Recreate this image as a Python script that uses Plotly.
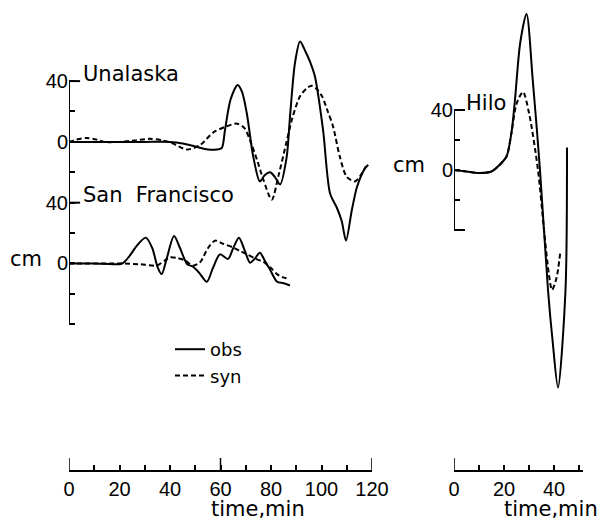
import plotly.graph_objects as go

# ---- data (time in min, amplitude in cm) ----
una_obs_t = [0, 10, 20, 30, 40, 45, 50, 55, 58.5, 60.5, 61.8, 64, 66.8, 68.5, 70.4, 73, 75.6, 77.5, 79.6, 81.5, 83.6,
             86.2, 87.5, 89.5, 91.5, 93.5, 95.4, 97.4, 100.6, 103.4, 106, 108, 109.7, 112, 114, 117, 118.5]
una_obs_cm = [0, 0, 0, 0, 0, -1, -3, -5, -5, -4, 8, 28, 37.5, 33, 19, -10, -26, -22, -20, -23, -28,
              -10, 16, 52, 66, 60, 53, 43, 8, -34, -43, -52, -65, -45, -30, -18, -15]

una_syn_t = [0, 3, 7, 11, 14, 20, 26, 32, 37, 41, 46.7, 52, 57, 62, 66.6, 69.5, 71.7, 74.5, 77, 80.3, 83, 86.3,
             88.5, 91.5, 94, 96, 98, 100.2, 102.5, 104.6, 107.3, 110, 113.3, 115.5, 117.6]
una_syn_cm = [0, 1.5, 2.6, 1.5, 0, 0, 1, 2, 1, -1, -5, -2, 6, 10, 12, 9, 1, -12, -25, -38, -22, 1,
              16, 30, 35, 37, 35, 30, 20, 10, -10, -23, -26, -22, -16]

sf_obs_t = [0, 10, 21, 24, 27, 30.4, 33, 35, 36.7, 38.5, 41.6, 44, 46.8, 49, 51.5, 54.6, 57, 59.8, 63, 65, 67.3,
            69.5, 71.7, 73.5, 75.6, 77.5, 79.6, 82.4, 85, 87.5]
sf_obs_cm = [0, 0, 0, 5, 12, 17, 10, -2, -7, 2, 18, 10, -0.5, -2, -6, -12, -3, 6, 3, 10, 17,
             9, 0.5, 3, 7, 2, -4, -12, -13, -14.5]

sf_syn_t = [0, 10, 21, 28, 34.8, 38, 40, 43, 46, 49, 52, 55, 57.8, 61, 65, 68, 70.5, 74, 77, 80, 82.4, 84.5, 86.7]
sf_syn_cm = [0, 0, 0, -0.5, -1.3, 2, 4, 3.5, 2, -1.5, 1, 10, 15, 13, 10.5, 8, 6, 3, 1, -3, -7, -9, -10]

hilo_obs_t = [0, 5, 10, 15, 18, 21, 23, 24.4, 26.5, 29, 31.5, 34.4, 37.6, 39.5, 41.6, 44.6, 45.2]
hilo_obs_cm = [0, -1, -2, -1, 3, 9, 25, 47, 85, 104, 60, 0, -80, -115, -145, -80, 15]

hilo_syn_t = [0, 5, 10, 15, 18, 21, 23, 25, 27.6, 30, 33.6, 36, 38, 39.2, 41, 42.5]
hilo_syn_cm = [0, -1, -2, -1, 3, 9, 25, 44, 52, 38, 0, -40, -70, -80, -72, -55]

una_offset = 80  # Unalaska trace plotted 80 cm above San Francisco

left_ticks = [-40, -20, 0, 20, 40, 60, 80, 100, 120]
left_ticktext = ["", "", "0", "", "40", "", "0", "", "40"]
right_ticks = [-40, -20, 0, 20, 40]
right_ticktext = ["", "", "0", "", "40"]
left_time_ticks = list(range(0, 121, 10))
left_time_text = [str(v) if v % 20 == 0 else "" for v in left_time_ticks]
right_time_ticks = list(range(0, 51, 10))
right_time_text = [str(v) if v % 20 == 0 else "" for v in right_time_ticks]

TXT = "DejaVu Sans"
NUM = "Liberation Sans"
solid = dict(color="black", width=2, shape="spline", smoothing=0.8)
dashed = dict(color="black", width=2, dash="5px,3px", shape="spline", smoothing=0.8)

fig = go.Figure()
fig.add_trace(go.Scatter(x=una_obs_t, y=[v + una_offset for v in una_obs_cm], mode="lines", line=solid,
                         name="obs", showlegend=True, xaxis="x", yaxis="y"))
fig.add_trace(go.Scatter(x=una_syn_t, y=[v + una_offset for v in una_syn_cm], mode="lines", line=dashed,
                         name="syn", showlegend=True, xaxis="x", yaxis="y"))
fig.add_trace(go.Scatter(x=sf_obs_t, y=sf_obs_cm, mode="lines", line=solid, showlegend=False, xaxis="x", yaxis="y"))
fig.add_trace(go.Scatter(x=sf_syn_t, y=sf_syn_cm, mode="lines", line=dashed, showlegend=False, xaxis="x", yaxis="y"))
fig.add_trace(go.Scatter(x=hilo_obs_t, y=hilo_obs_cm, mode="lines", line=solid, showlegend=False, xaxis="x2", yaxis="y2"))
fig.add_trace(go.Scatter(x=hilo_syn_t, y=hilo_syn_cm, mode="lines", line=dashed, showlegend=False, xaxis="x2", yaxis="y2"))

xcommon = dict(showgrid=False, zeroline=False, showline=True, linecolor="black", linewidth=2,
               ticks="inside", ticklen=5, tickwidth=2, tickcolor="black", tickmode="array",
               tickfont=dict(family=NUM, size=20, color="black"), fixedrange=True, automargin=False)
ycommon = dict(showgrid=False, zeroline=False, showline=False, ticks="inside", ticklen=6, tickwidth=2,
               tickcolor="black", tickmode="array", tickfont=dict(family=NUM, size=20, color="black"),
               domain=[50 / 520, 512 / 520], fixedrange=True, automargin=False)

fig.update_layout(
    width=599, height=520, margin=dict(l=0, r=0, t=0, b=0, pad=0, autoexpand=False),
    paper_bgcolor="white", plot_bgcolor="white",
    xaxis=dict(xcommon, domain=[69 / 599, 372 / 599], range=[0, 120], anchor="y",
               tickvals=left_time_ticks, ticktext=left_time_text),
    yaxis=dict(ycommon, range=[-135.9, 168.1], anchor="x", tickvals=left_ticks, ticktext=left_ticktext),
    xaxis2=dict(xcommon, domain=[454 / 599, 582.75 / 599], range=[0, 51.5], anchor="y2",
                tickvals=right_time_ticks, ticktext=right_time_text),
    yaxis2=dict(ycommon, range=[-200, 108], anchor="x2", tickvals=right_ticks, ticktext=right_ticktext),
    legend=dict(x=170 / 599, y=1 - 331 / 520, xanchor="left", yanchor="top", bgcolor="rgba(0,0,0,0)",
                font=dict(family=TXT, size=18, color="black"), tracegroupgap=0),
)

shapes = []
# vertical cm axes
shapes.append(dict(type="line", xref="x", yref="y", x0=0, x1=0, y0=-40, y1=120, line=dict(color="black", width=2)))
shapes.append(dict(type="line", xref="x2", yref="y2", x0=0, x1=0, y0=-40, y1=40, line=dict(color="black", width=2)))
# longer label ticks
for yv in (120, 40):
    shapes.append(dict(type="line", xref="x", yref="y", x0=0, x1=4.4, y0=yv, y1=yv, line=dict(color="black", width=2)))
for yv in (40, -40):
    shapes.append(dict(type="line", xref="x2", yref="y2", x0=0, x1=4.4, y0=yv, y1=yv, line=dict(color="black", width=2)))
# taller time ticks
for xv in (0, 60, 120):
    shapes.append(dict(type="line", xref="x", yref="y domain", x0=xv, x1=xv, y0=0, y1=0.026,
                       line=dict(color="black", width=1.5)))
shapes.append(dict(type="line", xref="x2", yref="y2 domain", x0=0, x1=0, y0=0, y1=0.026,
                   line=dict(color="black", width=1.5)))
fig.update_layout(shapes=shapes)

tfont = dict(family=TXT, size=21, color="black")
ann = [
    dict(text="Unalaska", x=81 / 599, y=1 - 74 / 520),
    dict(text="San  Francisco", x=81 / 599, y=1 - 195 / 520),
    dict(text="Hilo", x=464 / 599, y=1 - 103 / 520),
    dict(text="cm", x=8 / 599, y=1 - 259 / 520),
    dict(text="cm", x=391 / 599, y=1 - 165 / 520),
]
annotations = []
for a in ann:
    annotations.append(dict(a, xref="paper", yref="paper", xanchor="left", yanchor="middle",
                            showarrow=False, font=tfont))
annotations.append(dict(text="time,min", x=258 / 599, y=1 - 509 / 520, xref="paper", yref="paper",
                        xanchor="center", yanchor="middle", showarrow=False, font=tfont))
annotations.append(dict(text="time,min", x=551 / 599, y=1 - 509 / 520, xref="paper", yref="paper",
                        xanchor="center", yanchor="middle", showarrow=False, font=tfont))
fig.update_layout(annotations=annotations)

fig.write_html("out.html", config={"displayModeBar": False},
               post_script="document.body.style.margin='0';document.body.style.overflow='hidden';")
